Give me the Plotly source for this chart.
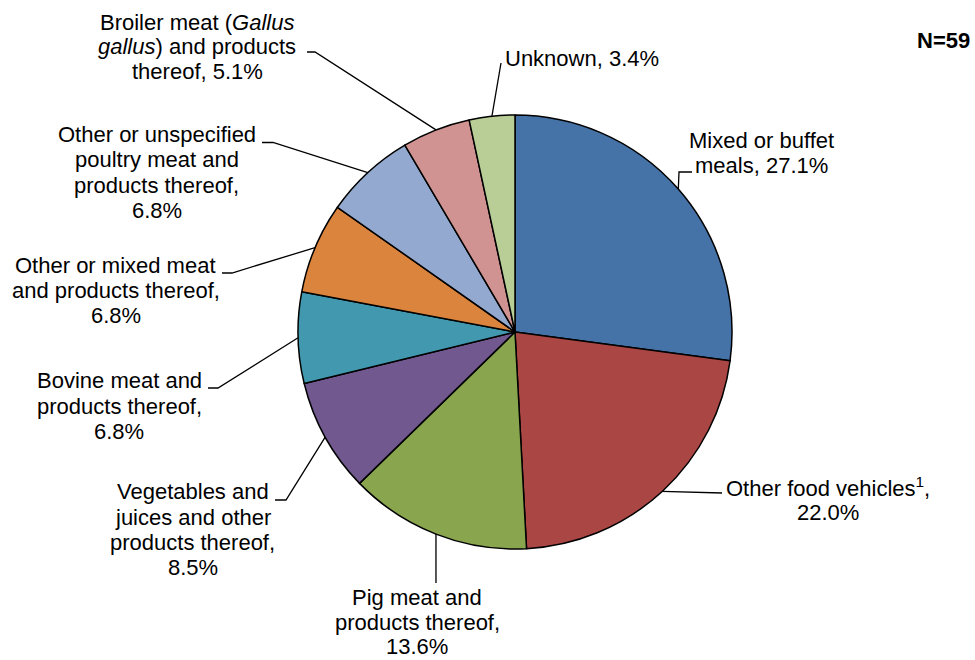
import math
import plotly.graph_objects as go

# ---- data ----
categories = [
    "Mixed or buffet meals",
    "Other food vehicles",
    "Pig meat and products thereof",
    "Vegetables and juices and other products thereof",
    "Bovine meat and products thereof",
    "Other or mixed meat and products thereof",
    "Other or unspecified poultry meat and products thereof",
    "Broiler meat (Gallus gallus) and products thereof",
    "Unknown",
]
counts = [16, 13, 8, 5, 4, 4, 4, 3, 2]
pct_labels = ["27.1%", "22.0%", "13.6%", "8.5%", "6.8%", "6.8%", "6.8%", "5.1%", "3.4%"]
label_lines = [
    ["Mixed or buffet", "meals, 27.1%"],
    ["Other food vehicles<sup>1</sup>,", "22.0%"],
    ["Pig meat and", "products thereof,", "13.6%"],
    ["Vegetables and", "juices and other", "products thereof,", "8.5%"],
    ["Bovine meat and", "products thereof,", "6.8%"],
    ["Other or mixed meat", "and products thereof,", "6.8%"],
    ["Other or unspecified", "poultry meat and", "products thereof,", "6.8%"],
    ["Broiler meat (<i>Gallus</i>", "<i>gallus</i>) and products", "thereof, 5.1%"],
    ["Unknown, 3.4%"],
]
colors = ["#4572A7", "#AA4643", "#89A54E", "#71588F", "#4198AF",
          "#DB843D", "#93A9CF", "#D19392", "#B9CD96"]

W, H = 975, 660
cx, cy, R = 515, 332, 217
FS = 22

# label layout in pixels: text x, anchor, first baseline, line step, leader elbow points
label_layout = [
    dict(tx=761.5, xa="center", base=148.3, step=25.0, elbow=[(692, 172), (679, 172)]),
    dict(tx=828, xa="center", base=495, step=25.0, elbow=[(722, 493)]),
    dict(tx=417, xa="center", base=605.5, step=24.5, elbow=[(436, 583)]),
    dict(tx=192.5, xa="center", base=499.3, step=25.4, elbow=[(275, 500), (286, 500)]),
    dict(tx=119, xa="center", base=388.3, step=25.5, elbow=[(208, 388), (218, 388)]),
    dict(tx=115.5, xa="center", base=273.3, step=25.0, elbow=[(222, 273), (232, 273)]),
    dict(tx=156.5, xa="center", base=142.3, step=25.3, elbow=[(262, 142.5), (273, 142.5)]),
    dict(tx=197, xa="center", base=30, step=24.5, elbow=[(307, 52), (315, 52)]),
    dict(tx=503, xa="left", base=66.7, step=25.0, elbow=[(501, 63)]),
]


def px(x):
    return x / W


def py(y):
    return 1 - y / H


fig = go.Figure(go.Pie(
    labels=categories,
    values=counts,
    sort=False,
    direction="clockwise",
    rotation=0,
    marker=dict(colors=colors, line=dict(color="black", width=1.5)),
    textinfo="none",
    hoverinfo="label+percent",
    showlegend=False,
    domain=dict(x=[px(cx - R), px(cx + R)], y=[py(cy + R), py(cy - R)]),
))

total = sum(counts)
cum = 0
annotations = []
shapes = []
font = dict(family="Liberation Sans, Arial, sans-serif", size=FS, color="black")
mid_off = 0.35 * FS  # baseline -> vertical middle of text box
for i, v in enumerate(counts):
    mid = (cum + v / 2) / total * 2 * math.pi
    cum += v
    ex = cx + R * math.sin(mid)
    ey = cy - R * math.cos(mid)
    lay = label_layout[i]
    pts = [(ex, ey)] + list(reversed(lay["elbow"]))
    path = "M " + " L ".join(f"{px(x)},{py(y)}" for x, y in pts)
    shapes.append(dict(type="path", xref="paper", yref="paper", path=path,
                       line=dict(color="black", width=1.3)))
    for k, line in enumerate(label_lines[i]):
        yb = lay["base"] + k * lay["step"]
        annotations.append(dict(
            x=px(lay["tx"]), y=py(yb - mid_off), xref="paper", yref="paper",
            text=line, showarrow=False, xanchor=lay["xa"], yanchor="middle",
            align="center", font=font,
        ))

annotations.append(dict(
    x=px(972), y=py(48.3 - mid_off), xref="paper", yref="paper", text="<b>N=59</b>",
    showarrow=False, xanchor="right", yanchor="middle",
    font=dict(family="Liberation Sans, Arial, sans-serif", size=22, color="black"),
))

fig.update_layout(
    width=W, height=H,
    margin=dict(l=0, r=0, t=0, b=0),
    paper_bgcolor="white",
    plot_bgcolor="white",
    annotations=annotations,
    shapes=shapes,
)

fig.write_html("out.html",
               config={"displayModeBar": False},
               post_script="document.body.style.margin='0';document.body.style.overflow='hidden';")
